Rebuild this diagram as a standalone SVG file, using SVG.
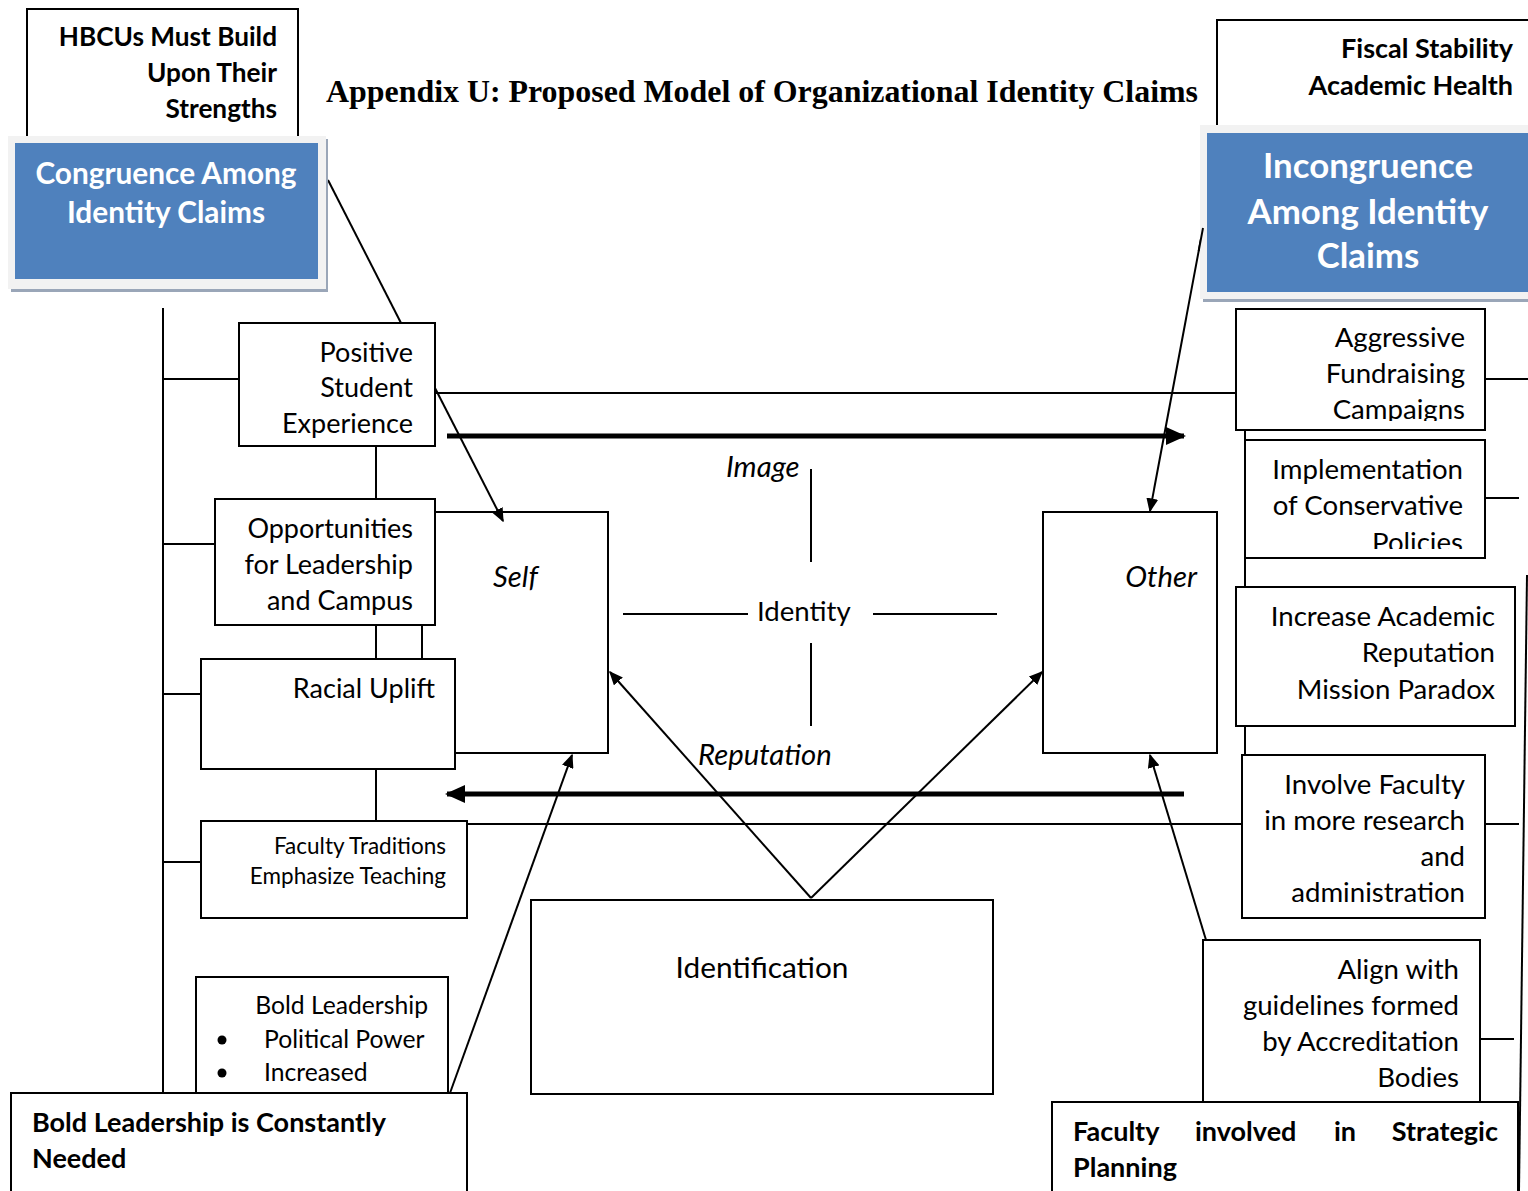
<svg xmlns="http://www.w3.org/2000/svg" width="1528" height="1191" viewBox="0 0 1528 1191">
  <style>
    .box { fill: #fff; stroke: #000; stroke-width: 2; }
    .ln { fill: none; stroke: #000; stroke-width: 2; }
    .thick { fill: none; stroke: #000; stroke-width: 5; }
    .txt { font-family: Lato, "Open Sans", sans-serif; font-size: 27.6px; fill: #000; }
    .sm { font-size: 27px; }
    .bold { font-weight: bold; }
    .it { font-style: italic; font-size: 29.3px; }
    .end { text-anchor: end; }
    .mid { text-anchor: middle; }
    .blue { fill: #4F81BD; }
    .panel { fill: #F2F2F2; }
    .shade { fill: #9AA6B8; }
    .wtxt { font-family: Lato, "Open Sans", sans-serif; font-weight: bold; fill: #fff; text-anchor: middle; }
    .title { font-family: "Liberation Serif", "Times New Roman", serif; font-weight: bold; font-size: 31.9px; fill: #000; }
  </style>
  <defs>
    <marker id="arrS" viewBox="0 0 10 10" refX="9" refY="5" markerWidth="14" markerHeight="12" markerUnits="userSpaceOnUse" orient="auto" preserveAspectRatio="none">
      <path d="M0,0 L10,5 L0,10 z" fill="#000"/>
    </marker>
    <marker id="arrT" viewBox="0 0 10 10" refX="9" refY="5" markerWidth="20" markerHeight="18" markerUnits="userSpaceOnUse" orient="auto" preserveAspectRatio="none">
      <path d="M0,0 L10,5 L0,10 z" fill="#000"/>
    </marker>
    <clipPath id="clipAgg"><rect x="1237" y="310" width="247" height="111"/></clipPath>
    <clipPath id="clipImp"><rect x="1246" y="441" width="238" height="108"/></clipPath>
  </defs>

  <rect width="1528" height="1191" fill="#fff"/>

  <!-- Title -->
  <text class="title" x="326" y="102">Appendix U: Proposed Model of Organizational Identity Claims</text>

  <!-- Self / Other boxes (drawn first so claim boxes sit on top) -->
  <g id="self">
    <rect class="box" x="422" y="512" width="186" height="241"/>
    <text class="txt it" x="493" y="587">Self</text>
  </g>
  <g id="other">
    <rect class="box" x="1043" y="512" width="174" height="241"/>
    <text class="txt it end" x="1197" y="587">Other</text>
  </g>

  <!-- Connectors -->
  <g id="connectors">
    <!-- left spine and branches -->
    <line class="ln" x1="163" y1="308" x2="163" y2="1093"/>
    <line class="ln" x1="163" y1="379" x2="239" y2="379"/>
    <line class="ln" x1="163" y1="544" x2="215" y2="544"/>
    <line class="ln" x1="163" y1="694" x2="201" y2="694"/>
    <line class="ln" x1="163" y1="862" x2="201" y2="862"/>
    <line class="ln" x1="376" y1="446" x2="376" y2="499"/>
    <line class="ln" x1="376" y1="625" x2="376" y2="659"/>
    <line class="ln" x1="376" y1="769" x2="376" y2="821"/>

    <!-- long horizontals -->
    <line class="ln" x1="435" y1="393" x2="1236" y2="393"/>
    <line class="ln" x1="467" y1="824" x2="1242" y2="824"/>
    <line class="thick" x1="447" y1="436" x2="1184" y2="436" marker-end="url(#arrT)"/>
    <line class="thick" x1="1184" y1="794" x2="447" y2="794" marker-end="url(#arrT)"/>

    <!-- diagonal links -->
    <line class="ln" x1="328" y1="180" x2="401" y2="323"/>
    <line class="ln" x1="435" y1="388" x2="503" y2="521" marker-end="url(#arrS)"/>
    <line class="ln" x1="450" y1="1093" x2="572" y2="755" marker-end="url(#arrS)"/>
    <line class="ln" x1="811" y1="898" x2="610" y2="672" marker-end="url(#arrS)"/>
    <line class="ln" x1="811" y1="898" x2="1042" y2="672" marker-end="url(#arrS)"/>
    <line class="ln" x1="1203" y1="228" x2="1150" y2="511" marker-end="url(#arrS)"/>
    <line class="ln" x1="1206" y1="940" x2="1150" y2="755" marker-end="url(#arrS)"/>

    <!-- identity cross -->
    <line class="ln" x1="811" y1="469" x2="811" y2="562"/>
    <line class="ln" x1="811" y1="643" x2="811" y2="726"/>
    <line class="ln" x1="623" y1="614" x2="748" y2="614"/>
    <line class="ln" x1="873" y1="614" x2="997" y2="614"/>

    <!-- right side -->
    <line class="ln" x1="1245" y1="430" x2="1245" y2="440"/>
    <line class="ln" x1="1245" y1="558" x2="1245" y2="587"/>
    <line class="ln" x1="1245" y1="726" x2="1245" y2="755"/>
    <line class="ln" x1="1485" y1="379" x2="1528" y2="379"/>
    <line class="ln" x1="1485" y1="498" x2="1519" y2="498"/>
    <line class="ln" x1="1485" y1="824" x2="1519" y2="824"/>
    <line class="ln" x1="1480" y1="1039" x2="1514" y2="1039"/>
    <line class="ln" x1="1527" y1="575" x2="1519" y2="1191"/>
  </g>

  <!-- Centre labels -->
  <g id="identity-labels">
    <text class="txt it" x="726" y="477">Image</text>
    <text class="txt" x="757" y="621">Identity</text>
    <text class="txt it" x="698" y="765">Reputation</text>
  </g>

  <!-- Left column -->
  <g id="hbcus-strengths">
    <rect class="box" x="27" y="9" width="271" height="129"/>
    <text class="txt bold end" x="277" y="46" style="font-size:26.2px">HBCUs Must Build</text>
    <text class="txt bold end" x="277" y="82" style="font-size:26.2px">Upon Their</text>
    <text class="txt bold end" x="277" y="118" style="font-size:26.2px">Strengths</text>
  </g>
  <g id="congruence">
    <rect class="shade" x="11" y="139" width="317" height="153"/>
    <rect class="panel" x="8" y="136" width="318" height="153"/>
    <rect class="blue" x="15" y="143" width="303" height="136"/>
    <text class="wtxt" x="166" y="184" style="font-size:29.8px">Congruence Among</text>
    <text class="wtxt" x="166" y="223" style="font-size:29.8px">Identity Claims</text>
  </g>
  <g id="positive-student">
    <rect class="box" x="239" y="323" width="196" height="123"/>
    <text class="txt sm end" x="413" y="362">Positive</text>
    <text class="txt sm end" x="413" y="397">Student</text>
    <text class="txt sm end" x="413" y="433">Experience</text>
  </g>
  <g id="opportunities">
    <rect class="box" x="215" y="499" width="220" height="126"/>
    <text class="txt sm end" x="413" y="538">Opportunities</text>
    <text class="txt sm end" x="413" y="574">for Leadership</text>
    <text class="txt sm end" x="413" y="610">and Campus</text>
  </g>
  <g id="racial-uplift">
    <rect class="box" x="201" y="659" width="254" height="110"/>
    <text class="txt sm end" x="435" y="698">Racial Uplift</text>
  </g>
  <g id="faculty-traditions">
    <rect class="box" x="201" y="821" width="266" height="97"/>
    <text class="txt end" x="446" y="854" style="font-size:22.5px">Faculty Traditions</text>
    <text class="txt end" x="446" y="884" style="font-size:22.5px">Emphasize Teaching</text>
  </g>
  <g id="bold-leadership">
    <rect class="box" x="196" y="977" width="252" height="116"/>
    <text class="txt end" x="428" y="1014" style="font-size:24.7px">Bold Leadership</text>
    <circle cx="222" cy="1040" r="4.5" fill="#000"/>
    <circle cx="222" cy="1073" r="4.5" fill="#000"/>
    <text class="txt" x="264" y="1048" style="font-size:24.7px">Political Power</text>
    <text class="txt" x="264" y="1081" style="font-size:24.7px">Increased</text>
  </g>
  <g id="bold-needed">
    <rect class="box" x="11" y="1093" width="456" height="110"/>
    <text class="txt sm bold" x="32" y="1132">Bold Leadership is Constantly</text>
    <text class="txt sm bold" x="32" y="1168">Needed</text>
  </g>

  <!-- Identification -->
  <g id="identification">
    <rect class="box" x="531" y="900" width="462" height="194"/>
    <text class="txt mid" x="762" y="978" style="font-size:29.8px">Identification</text>
  </g>

  <!-- Right column -->
  <g id="fiscal-stability">
    <rect class="box" x="1217" y="20" width="320" height="108"/>
    <text class="txt sm bold end" x="1513" y="58">Fiscal Stability</text>
    <text class="txt sm bold end" x="1513" y="95">Academic Health</text>
  </g>
  <g id="incongruence">
    <rect class="shade" x="1203" y="128" width="330" height="174"/>
    <rect class="panel" x="1200" y="125" width="330" height="174"/>
    <rect class="blue" x="1207" y="133" width="325" height="159"/>
    <text class="wtxt" x="1368" y="178" style="font-size:34.8px">Incongruence</text>
    <text class="wtxt" x="1368" y="224" style="font-size:34.8px">Among Identity</text>
    <text class="wtxt" x="1368" y="268" style="font-size:34.8px">Claims</text>
  </g>
  <!-- start of the Incongruence link, drawn over the panel edge -->
  <line class="ln" x1="1203" y1="228" x2="1198.7" y2="251"/>
  <g id="aggressive-fundraising">
    <rect class="box" x="1236" y="309" width="249" height="121"/>
    <g clip-path="url(#clipAgg)">
      <text class="txt end" x="1465" y="347">Aggressive</text>
      <text class="txt end" x="1465" y="383">Fundraising</text>
      <text class="txt end" x="1465" y="419">Campaigns</text>
    </g>
  </g>
  <g id="conservative-policies">
    <rect class="box" x="1245" y="440" width="240" height="118"/>
    <g clip-path="url(#clipImp)">
      <text class="txt end" x="1463" y="479">Implementation</text>
      <text class="txt end" x="1463" y="515">of Conservative</text>
      <text class="txt end" x="1463" y="552">Policies</text>
    </g>
  </g>
  <g id="academic-reputation">
    <rect class="box" x="1236" y="587" width="279" height="139"/>
    <text class="txt end" x="1495" y="626">Increase Academic</text>
    <text class="txt end" x="1495" y="662">Reputation</text>
    <text class="txt end" x="1495" y="699">Mission Paradox</text>
  </g>
  <g id="involve-faculty">
    <rect class="box" x="1242" y="755" width="243" height="163"/>
    <text class="txt end" x="1465" y="794">Involve Faculty</text>
    <text class="txt end" x="1465" y="830">in more research</text>
    <text class="txt end" x="1465" y="866">and</text>
    <text class="txt end" x="1465" y="902">administration</text>
  </g>
  <g id="accreditation">
    <rect class="box" x="1203" y="940" width="277" height="162"/>
    <text class="txt end" x="1459" y="979">Align with</text>
    <text class="txt end" x="1459" y="1015">guidelines formed</text>
    <text class="txt end" x="1459" y="1051">by Accreditation</text>
    <text class="txt end" x="1459" y="1087">Bodies</text>
  </g>
  <g id="strategic-planning">
    <rect class="box" x="1052" y="1102" width="466" height="110"/>
    <text class="txt sm bold" x="1073" y="1141">Faculty</text>
    <text class="txt sm bold" x="1195" y="1141">involved</text>
    <text class="txt sm bold" x="1334" y="1141">in</text>
    <text class="txt sm bold end" x="1498" y="1141">Strategic</text>
    <text class="txt sm bold" x="1073" y="1177">Planning</text>
  </g>
</svg>
